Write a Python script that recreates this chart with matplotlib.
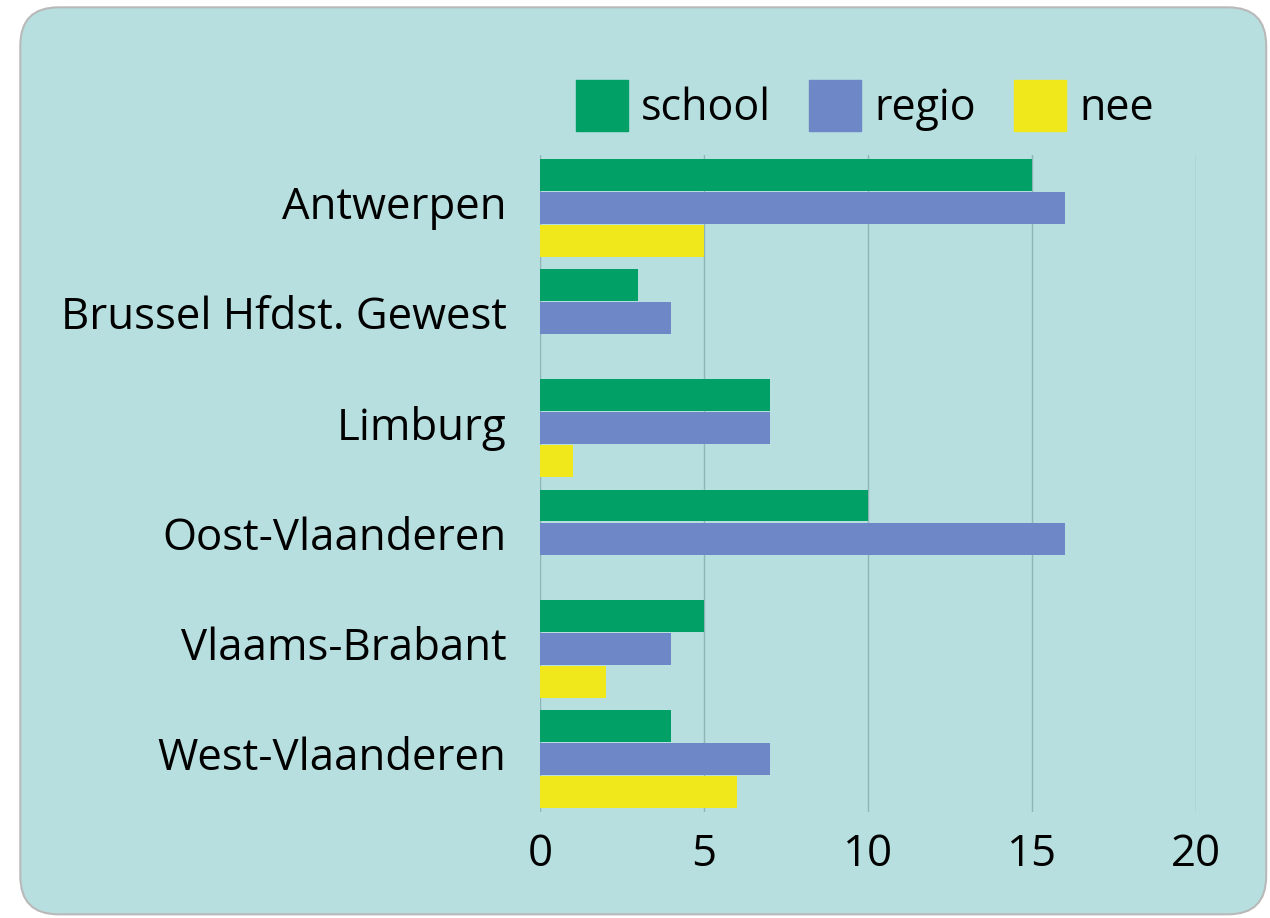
import numpy as np
import matplotlib
matplotlib.use('Agg')
import matplotlib.pyplot as plt
from matplotlib.patches import FancyBboxPatch, Patch
from matplotlib.transforms import ScaledTranslation

plt.rcParams['font.family'] = ['Open Sans', 'DejaVu Sans']

# data
regions = ['Antwerpen', 'Brussel Hfdst. Gewest', 'Limburg', 'Oost-Vlaanderen',
           'Vlaams-Brabant', 'West-Vlaanderen']
school = [15, 3, 7, 10, 5, 4]
regio = [16, 4, 7, 16, 4, 7]
nee = [5, 0, 1, 0, 2, 6]
series_names = ['school', 'regio', 'nee']
colors = ['#00a067', '#6e87c7', '#f0e81a']
xticks = [0, 5, 10, 15, 20]

bg = '#b7dfdf'
gridcol = '#8fb5b5'

fig = plt.figure(figsize=(12.7, 9.18), dpi=100)
fig.patch.set_facecolor('white')

# rounded panel behind the chart
panel = FancyBboxPatch((0.016, 0.004), 0.981, 0.988,
                       boxstyle='round,pad=0,rounding_size=0.03',
                       transform=fig.transFigure, facecolor=bg,
                       edgecolor='#b9b9b9', linewidth=1.5,
                       mutation_aspect=1270 / 918, zorder=-5)
fig.patches.append(panel)

ax = fig.add_axes([0.4252, 0.1155, 0.5165, 0.7157])
ax.set_facecolor('none')

y = np.arange(len(regions))
h = 0.29
offs = [-0.3, 0.0, 0.3]
for vals, off, col, name in zip([school, regio, nee], offs, colors, series_names):
    ax.barh(y + off, vals, height=h, color=col, linewidth=0,
            label=name, zorder=3)

ax.set_xlim(0, 20)
ax.set_ylim(len(regions) - 0.52, -0.48)
ax.set_xticks(xticks)
ax.set_xticklabels([str(t) for t in xticks])
ax.set_yticks(y)
ax.set_yticklabels(regions)
ax.tick_params(axis='y', length=0, pad=24, labelsize=31.5)
ax.tick_params(axis='x', length=0, pad=15, labelsize=31.5)
ax.grid(axis='x', color=gridcol, linewidth=1, zorder=0)
for s in ax.spines.values():
    s.set_visible(False)

# nudge the region names up a little
shift = ScaledTranslation(0, 4 / 72, fig.dpi_scale_trans)
for lab in ax.get_yticklabels():
    lab.set_transform(lab.get_transform() + shift)

handles = [Patch(facecolor=c, edgecolor=c) for c in colors]
fig.legend(handles, series_names, loc='center', bbox_to_anchor=(0.681, 0.885),
           ncol=3, frameon=False, fontsize=31, handlelength=1.2,
           handleheight=1.45, handletextpad=0.3, columnspacing=0.9)

fig.savefig('out.png', dpi=100, facecolor='white')
